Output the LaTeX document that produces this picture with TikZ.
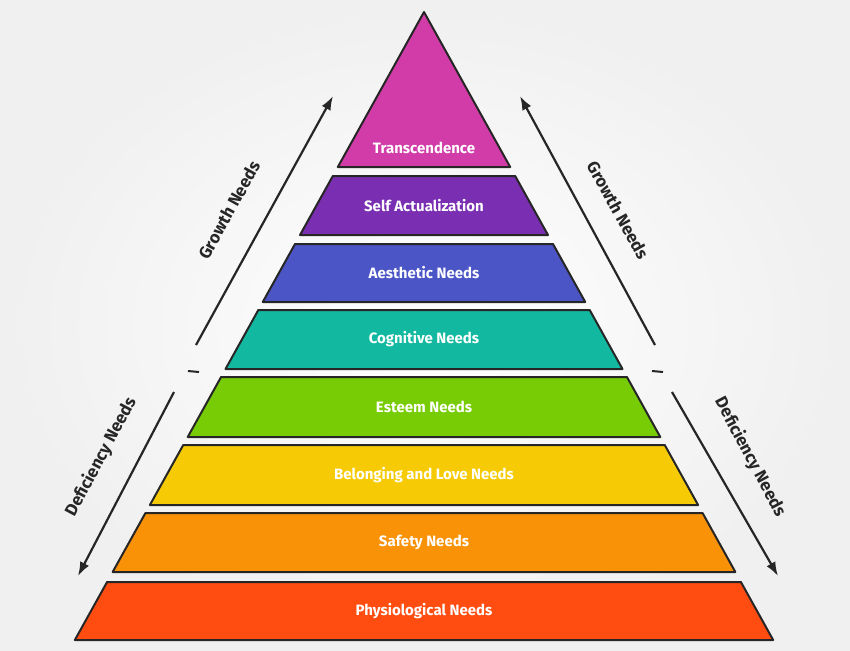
\documentclass[tikz,border=0pt]{standalone}
\usepackage{fontspec}
\setmainfont{Fira Sans}
\usetikzlibrary{arrows.meta}
\definecolor{c1}{HTML}{D23CA8}
\definecolor{c2}{HTML}{7A2EB2}
\definecolor{c3}{HTML}{4B55C6}
\definecolor{c4}{HTML}{12B9A0}
\definecolor{c5}{HTML}{78CC05}
\definecolor{c6}{HTML}{F6CB06}
\definecolor{c7}{HTML}{FA9207}
\definecolor{c8}{HTML}{FF4D12}
\begin{document}
\begin{tikzpicture}[x=1pt,y=-1pt,
  layer/.style={draw=black!85,line width=2pt,line join=round},
  lbl/.style={text=white,font=\fontsize{15}{17}\selectfont\bfseries},
  side/.style={font=\fontsize{17}{19}\selectfont\bfseries,text=black!85},
  arr/.style={line width=2.2pt,draw=black!85,-{Latex[length=14pt,width=10pt]}}]
\useasboundingbox (0,0) rectangle (850,650);
\shade[inner color=white,outer color=black!6] (0,0) rectangle (850,650);
\def\hw#1{(#1-12)*0.556}
\fill[c1,layer] (424,12) -- ({424+\hw{167}},167) -- ({424-\hw{167}},167) -- cycle;
\node[lbl] (t1) at (424,148) {Transcendence};
\foreach \t/\b/\c/\n/\s in {176/235/c2/t2/Self Actualization,244/302/c3/t3/Aesthetic Needs,310/369/c4/t4/Cognitive Needs,377/437/c5/t5/Esteem Needs,445/505/c6/t6/Belonging and Love Needs,513/572/c7/t7/Safety Needs,582/640/c8/t8/Physiological Needs}{
  \fill[\c,layer] ({424-\hw{\t}},\t) -- ({424+\hw{\t}},\t) -- ({424+\hw{\b}},\b) -- ({424-\hw{\b}},\b) -- cycle;
  \node[lbl] (\n) at (424,{(\t+\b)/2}) {\s};
}
\coordinate (gl0) at (196,345); \coordinate (gl1) at (333,96);
\coordinate (gr0) at (655,345); \coordinate (gr1) at (520,96);
\coordinate (dl0) at (174,392); \coordinate (dl1) at (78,576);
\coordinate (dr0) at (672,392); \coordinate (dr1) at (778,576);
\draw[arr] (gl0) -- (gl1);
\draw[arr] (gr0) -- (gr1);
\draw[arr] (dl0) -- (dl1);
\draw[arr] (dr0) -- (dr1);
\draw[line width=2pt,black!85] (188,371) -- (199,372) (652,371) -- (663,372);
\node[side,rotate=61] (gnl) at (229,210) {Growth Needs};
\node[side,rotate=-61] (gnr) at (618,210) {Growth Needs};
\node[side,rotate=62] (dnl) at (101,457) {Deficiency Needs};
\node[side,rotate=-62] (dnr) at (750,457) {Deficiency Needs};
\end{tikzpicture}
\end{document}
